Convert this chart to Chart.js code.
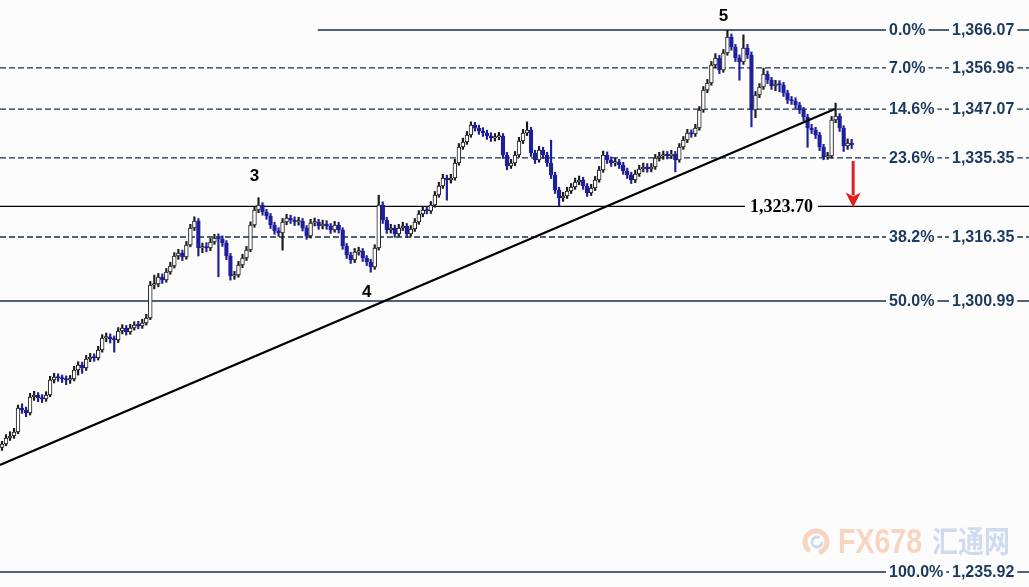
<!DOCTYPE html>
<html>
<head>
<meta charset="utf-8">
<title>Gold 4H – Fibonacci retracement</title>
<script src="https://cdn.jsdelivr.net/npm/chart.js@4.4.1/dist/chart.umd.min.js"></script>
<style>
  html, body { margin: 0; padding: 0; background: #fcfcfc; }
  canvas { display: block; }
</style>
</head>
<body>
<canvas id="chart" width="1029" height="587"></canvas>
<script>
// ---- price data (OHLC per bar) ----
const opens = [
  1265.80,1266.64,1268.08,1268.56,1269.53,1275.29,1274.81,1274.09,1277.93,1278.41,
  1277.69,1277.45,1278.41,1282.01,1282.73,1282.49,1282.25,1282.01,1282.25,1284.41,
  1285.62,1284.90,1287.06,1287.54,1287.30,1289.22,1292.10,1292.34,1291.86,1291.62,
  1293.78,1294.50,1293.54,1294.50,1295.22,1295.00,1295.70,1296.90,1304.83,1305.07,
  1306.75,1306.03,1307.95,1309.39,1311.79,1312.51,1311.55,1314.43,1318.52,1320.20,
  1313.71,1313.95,1313.71,1315.15,1316.11,1315.87,1314.91,1311.79,1306.99,1307.23,
  1309.63,1311.31,1313.23,1319.24,1322.84,1324.04,1322.36,1321.40,1319.24,1317.80,
  1317.31,1319.96,1320.92,1320.44,1319.96,1320.20,1318.52,1316.60,1319.72,1319.96,
  1319.00,1319.48,1319.00,1318.04,1319.24,1318.04,1314.19,1312.03,1310.83,1312.75,
  1312.99,1311.31,1310.35,1309.15,1313.71,1324.04,1320.44,1318.04,1318.52,1317.08,
  1318.52,1319.00,1317.08,1318.28,1319.96,1321.88,1322.84,1322.60,1324.04,1326.44,
  1328.60,1330.52,1330.04,1330.52,1334.13,1337.97,1339.17,1340.85,1343.25,1342.53,
  1341.81,1341.33,1340.61,1340.13,1340.37,1340.61,1336.05,1333.41,1334.13,1336.05,
  1339.41,1341.33,1342.05,1336.53,1334.85,1337.25,1336.05,1334.13,1331.24,1327.64,
  1325.72,1326.20,1327.40,1328.36,1329.56,1330.04,1328.60,1326.92,1328.12,1330.04,
  1332.44,1336.05,1334.85,1334.13,1334.37,1333.65,1332.20,1331.24,1330.04,1331.48,
  1332.68,1333.17,1332.68,1333.17,1335.33,1335.81,1336.05,1335.85,1336.29,1334.85,
  1337.97,1339.65,1341.33,1341.09,1342.53,1346.85,1351.66,1353.34,1357.66,1359.34,
  1356.46,1360.54,1364.38,1361.98,1359.34,1358.38,1361.74,1360.06,1346.85,1350.46,
  1352.38,1355.50,1354.06,1352.62,1353.10,1352.86,1350.94,1349.26,1349.02,1348.05,
  1346.85,1345.17,1342.53,1342.05,1340.85,1337.97,1335.57,1335.81,1344.45,1345.41,
  1342.53,1338.21,1338.93
];
const highs = [
  1267.3,1268.9,1269.6,1270.4,1276.0,1276.3,1275.5,1278.8,1279.3,1279.0,
  1278.5,1279.2,1282.9,1283.6,1283.5,1283.2,1283.0,1283.1,1285.3,1286.4,
  1286.3,1287.9,1288.4,1288.3,1290.1,1292.9,1293.3,1293.1,1292.6,1294.6,
  1295.3,1295.1,1295.4,1296.0,1296.1,1296.6,1297.8,1305.7,1307.2,1307.6,
  1307.5,1308.8,1310.3,1312.6,1313.4,1313.2,1315.3,1319.4,1321.2,1320.8,
  1314.9,1315.0,1316.0,1317.0,1317.1,1316.6,1315.5,1312.4,1308.1,1310.5,
  1312.2,1314.1,1320.0,1323.7,1325.8,1324.6,1323.0,1322.0,1319.9,1318.6,
  1320.8,1321.8,1321.6,1321.2,1321.1,1320.8,1319.1,1320.6,1320.9,1320.6,
  1320.4,1320.3,1319.6,1320.1,1319.9,1318.6,1314.8,1312.7,1313.6,1313.9,
  1313.6,1311.9,1311.0,1314.5,1326.4,1324.8,1321.1,1319.4,1319.2,1319.4,
  1319.9,1319.6,1319.1,1320.8,1322.7,1323.7,1323.6,1324.9,1327.3,1329.5,
  1331.4,1331.2,1331.4,1335.0,1338.8,1340.1,1341.7,1344.0,1343.9,1343.2,
  1342.6,1342.0,1341.4,1341.2,1341.5,1341.2,1336.7,1335.0,1336.9,1340.3,
  1342.2,1344.0,1342.7,1337.2,1338.1,1337.9,1336.7,1339.6,1331.9,1328.3,
  1327.1,1328.3,1329.2,1330.5,1331.0,1330.7,1329.2,1329.0,1330.9,1333.3,
  1337.0,1336.8,1335.6,1335.3,1335.0,1334.3,1332.9,1331.9,1332.4,1333.6,
  1334.1,1334.0,1334.0,1336.2,1336.7,1337.0,1336.9,1337.2,1336.9,1338.8,
  1340.5,1342.2,1342.1,1343.4,1347.7,1352.5,1354.2,1358.5,1360.4,1360.0,
  1361.4,1366.0,1365.1,1362.6,1360.1,1364.9,1362.6,1360.8,1351.3,1353.2,
  1356.9,1356.2,1354.7,1354.0,1353.9,1353.5,1351.6,1350.1,1349.8,1348.7,
  1347.5,1345.8,1343.4,1342.7,1341.5,1338.6,1336.7,1345.3,1348.5,1346.0,
  1343.1,1339.9,1339.8
];
const lows = [
  1265.1,1266.2,1267.5,1268.0,1269.1,1274.0,1273.2,1273.6,1277.1,1276.8,
  1276.6,1276.9,1278.0,1281.3,1281.7,1281.4,1280.9,1281.2,1281.8,1283.2,
  1283.6,1284.3,1286.4,1286.5,1286.8,1288.7,1291.2,1290.9,1288.7,1291.0,
  1293.1,1292.8,1293.0,1294.0,1294.3,1294.4,1295.2,1296.5,1303.9,1304.4,
  1305.2,1305.5,1307.4,1308.9,1311.0,1310.7,1311.0,1314.0,1317.9,1311.8,
  1312.6,1312.8,1313.1,1314.6,1306.8,1314.1,1310.9,1306.0,1306.2,1306.7,
  1309.0,1310.7,1312.8,1318.7,1322.2,1321.6,1320.6,1318.4,1317.0,1316.5,
  1313.2,1319.3,1319.6,1319.1,1319.2,1317.8,1315.8,1316.1,1319.0,1318.2,
  1318.3,1318.2,1317.2,1317.5,1317.3,1313.4,1311.2,1310.0,1310.2,1312.0,
  1310.5,1309.5,1307.9,1308.6,1313.2,1319.6,1317.2,1317.3,1316.3,1316.5,
  1317.9,1316.3,1316.5,1317.7,1319.4,1321.2,1321.9,1322.0,1323.5,1325.9,
  1328.0,1325.2,1329.3,1330.0,1333.6,1337.4,1338.6,1340.3,1341.8,1341.0,
  1340.5,1339.8,1339.3,1339.4,1339.7,1335.2,1332.5,1332.8,1333.5,1335.5,
  1338.8,1340.7,1335.7,1334.0,1334.3,1335.2,1333.3,1330.4,1326.8,1323.9,
  1324.9,1325.6,1326.8,1327.8,1328.9,1327.8,1326.1,1326.3,1327.5,1329.5,
  1331.9,1334.0,1333.3,1333.4,1332.8,1331.4,1330.4,1329.2,1329.4,1330.9,
  1332.0,1331.9,1332.0,1332.6,1334.6,1335.0,1335.1,1335.2,1332.0,1334.3,
  1337.4,1339.0,1340.3,1340.5,1342.0,1346.3,1351.0,1352.8,1357.0,1355.6,
  1355.9,1360.0,1361.2,1358.5,1354.0,1357.8,1359.2,1342.8,1345.0,1349.8,
  1351.8,1353.2,1351.8,1351.5,1351.2,1350.1,1348.4,1348.2,1347.2,1346.0,
  1344.3,1337.9,1341.2,1340.0,1337.1,1334.9,1335.0,1335.3,1343.8,1341.7,
  1336.9,1337.4,1337.6
];
const closes = [
  1266.64,1268.08,1268.56,1269.53,1275.29,1274.81,1274.09,1277.93,1278.41,1277.69,
  1277.45,1278.41,1282.01,1282.73,1282.49,1282.25,1282.01,1282.25,1284.41,1285.62,
  1284.90,1287.06,1287.54,1287.30,1289.22,1292.10,1292.34,1291.86,1291.62,1293.78,
  1294.50,1293.54,1294.50,1295.22,1295.00,1295.70,1296.90,1304.83,1305.07,1306.75,
  1306.03,1307.95,1309.39,1311.79,1312.51,1311.55,1314.43,1318.52,1320.20,1313.71,
  1313.95,1313.71,1315.15,1316.11,1315.87,1314.91,1311.79,1306.99,1307.23,1309.63,
  1311.31,1313.23,1319.24,1322.84,1324.04,1322.36,1321.40,1319.24,1317.80,1317.31,
  1319.96,1320.92,1320.44,1319.96,1320.20,1318.52,1316.60,1319.72,1319.96,1319.00,
  1319.48,1319.00,1318.04,1319.24,1318.04,1314.19,1312.03,1310.83,1312.75,1312.99,
  1311.31,1310.35,1309.15,1313.71,1324.04,1320.44,1318.04,1318.52,1317.08,1318.52,
  1319.00,1317.08,1318.28,1319.96,1321.88,1322.84,1322.60,1324.04,1326.44,1328.60,
  1330.52,1330.04,1330.52,1334.13,1337.97,1339.17,1340.85,1343.25,1342.53,1341.81,
  1341.33,1340.61,1340.13,1340.37,1340.61,1336.05,1333.41,1334.13,1336.05,1339.41,
  1341.33,1342.05,1336.53,1334.85,1337.25,1336.05,1334.13,1331.24,1327.64,1325.72,
  1326.20,1327.40,1328.36,1329.56,1330.04,1328.60,1326.92,1328.12,1330.04,1332.44,
  1336.05,1334.85,1334.13,1334.37,1333.65,1332.20,1331.24,1330.04,1331.48,1332.68,
  1333.17,1332.68,1333.17,1335.33,1335.81,1336.05,1335.85,1336.29,1334.85,1337.97,
  1339.65,1341.33,1341.09,1342.53,1346.85,1351.66,1353.34,1357.66,1359.34,1356.46,
  1360.54,1364.38,1361.98,1359.34,1358.38,1361.74,1360.06,1346.85,1350.46,1352.38,
  1355.50,1354.06,1352.62,1353.10,1352.86,1350.94,1349.26,1349.02,1348.05,1346.85,
  1345.17,1342.53,1342.05,1340.85,1337.97,1335.57,1335.81,1344.45,1345.41,1342.53,
  1338.21,1338.93,1338.45
];

// ---- Fibonacci retracement levels ----
const fibPct    = ['0.0%', '7.0%', '14.6%', '23.6%', '38.2%', '50.0%', '100.0%'];
const fibLevels = [1366.07, 1356.96, 1347.07, 1335.35, 1316.35, 1300.99, 1235.92];
const fibDashed = [false, true, true, true, true, false, false];

// ---- support target, trend line, wave counts ----
const targetLevel = 1323.70;
const arrowFrom = 1334.6;
const trendStart = { bar: -0.5, price: 1261.60 };
const trendEnd   = { bar: 207.8, price: 1347.07 };
const waveNames = ['3', '4', '5'];
const waveBars  = [64, 92, 181];
const waveSide  = ['high', 'low', 'high'];
const fibStartBar = 78.8;

// ---- view window ----
const xMin = -0.5, xMax = 256.25;
const yMin = 1232.30, yMax = 1373.27;

const BG = '#fcfcfc';
const UP_LINE = '#1a1a1a';
const DOWN = '#1f1f9c';
const FIB_COLOR = '#15304f';
const FIB_TEXT = '#1b3a5e';

const bars = closes.map((_, i) => i);
const isUp = i => closes[i] >= opens[i];

const datasets = [];

// wicks (low-high)
datasets.push({
  type: 'bar',
  label: 'wick',
  data: bars.map(i => ({ x: i, y: [lows[i], highs[i]] })),
  backgroundColor: bars.map(i => isUp(i) ? UP_LINE : DOWN),
  barThickness: 1.5,
  grouped: false,
  order: 5
});
// bodies (open-close)
datasets.push({
  type: 'bar',
  label: 'body',
  data: bars.map(i => ({ x: i, y: [opens[i], closes[i]] })),
  backgroundColor: bars.map(i => isUp(i) ? '#ffffff' : DOWN),
  borderColor: bars.map(i => isUp(i) ? UP_LINE : DOWN),
  borderWidth: 1,
  borderSkipped: false,
  barThickness: 3.8,
  minBarLength: 1.5,
  grouped: false,
  order: 4
});
// retracement levels
fibLevels.forEach((lvl, k) => {
  datasets.push({
    type: 'line',
    label: fibPct[k],
    data: [{ x: k === 0 ? fibStartBar : xMin, y: lvl }, { x: xMax, y: lvl }],
    borderColor: FIB_COLOR,
    borderWidth: 1.4,
    borderDash: fibDashed[k] ? [6, 3] : [],
    pointRadius: 0,
    order: 10
  });
});
// target support line
datasets.push({
  type: 'line',
  label: 'target',
  data: [{ x: xMin, y: targetLevel }, { x: xMax, y: targetLevel }],
  borderColor: '#000000',
  borderWidth: 1.4,
  pointRadius: 0,
  order: 9
});
// rising trend line
datasets.push({
  type: 'line',
  label: 'trend',
  data: [{ x: trendStart.bar, y: trendStart.price }, { x: trendEnd.bar, y: trendEnd.price }],
  borderColor: '#000000',
  borderWidth: 2.2,
  pointRadius: 0,
  order: 1
});

const fmt = v => v.toLocaleString('en-US', { minimumFractionDigits: 2, maximumFractionDigits: 2 });

const backdrop = {
  id: 'backdrop',
  beforeDraw(chart) {
    const ctx = chart.ctx;
    ctx.save();
    ctx.fillStyle = BG;
    ctx.fillRect(0, 0, chart.width, chart.height);

    // faint site watermark
    ctx.lineCap = 'round';
    ctx.strokeStyle = 'rgba(242,150,95,0.38)';
    ctx.lineWidth = 5;
    ctx.beginPath(); ctx.arc(816, 542, 11, Math.PI * 0.75, Math.PI * 2.35); ctx.stroke();
    ctx.strokeStyle = 'rgba(120,150,215,0.35)';
    ctx.lineWidth = 3;
    ctx.beginPath(); ctx.arc(817, 542, 5, Math.PI * 0.1, Math.PI * 1.6); ctx.stroke();

    ctx.textBaseline = 'alphabetic';
    ctx.font = 'bold 35px "Liberation Sans", Arial, sans-serif';
    const w1 = ctx.measureText('FX678').width;
    ctx.save();
    ctx.translate(838, 553);
    ctx.scale(84 / w1, 1);
    ctx.fillStyle = 'rgba(244,160,110,0.42)';
    ctx.fillText('FX678', 0, 0);
    ctx.restore();

    ctx.font = 'bold 30px "Noto Sans CJK SC", sans-serif';
    const w2 = ctx.measureText('汇通网').width;
    ctx.save();
    ctx.translate(932, 552);
    ctx.scale(78 / w2, 1);
    ctx.fillStyle = 'rgba(150,175,222,0.42)';
    ctx.fillText('汇通网', 0, 0);
    ctx.restore();
    ctx.restore();
  }
};

const annotations = {
  id: 'annotations',
  afterDraw(chart) {
    const ctx = chart.ctx;
    const xs = chart.scales.x, ys = chart.scales.y;
    ctx.save();

    // level captions on the right
    ctx.font = 'bold 16px "Liberation Sans", Arial, sans-serif';
    ctx.textBaseline = 'middle';
    ctx.textAlign = 'left';
    fibLevels.forEach((lvl, k) => {
      const y = Math.round(ys.getPixelForValue(lvl));
      const pct = fibPct[k];
      const val = fmt(lvl);
      const px = 889;
      const pw = ctx.measureText(pct).width;
      const vx = Math.max(952, px + pw + 6);
      const vw = ctx.measureText(val).width;
      ctx.fillStyle = BG;
      ctx.fillRect(px - 3, y - 8, pw + 6, 16);
      ctx.fillRect(vx - 3, y - 8, vw + 6, 16);
      ctx.fillStyle = FIB_TEXT;
      ctx.fillText(pct, px, y + 1);
      ctx.fillText(val, vx, y + 1);
    });

    // target caption
    const ty = Math.round(ys.getPixelForValue(targetLevel));
    ctx.font = 'bold 18px "Liberation Serif", "Times New Roman", serif';
    const tText = fmt(targetLevel);
    const tw = ctx.measureText(tText).width;
    ctx.fillStyle = BG;
    ctx.fillRect(745, ty - 8, tw + 10, 16);
    ctx.fillStyle = '#000000';
    ctx.fillText(tText, 750, ty + 1);

    // wave counts
    ctx.font = 'bold 17px "Liberation Sans", Arial, sans-serif';
    ctx.textAlign = 'center';
    waveNames.forEach((name, k) => {
      const b = waveBars[k];
      const x = xs.getPixelForValue(b) - 4;
      const y = waveSide[k] === 'high'
        ? ys.getPixelForValue(highs[b]) - (k === 2 ? 14 : 21)
        : ys.getPixelForValue(lows[b]) + 20;
      ctx.fillStyle = '#000000';
      ctx.fillText(name, x, y);
    });

    // downside arrow towards the target
    const ax = xs.getPixelForValue(closes.length - 1) + 1.5;
    const y0 = ys.getPixelForValue(arrowFrom);
    const y1 = ys.getPixelForValue(targetLevel) + 1;
    ctx.strokeStyle = '#dd2020';
    ctx.fillStyle = '#dd2020';
    ctx.lineWidth = 3;
    ctx.lineCap = 'butt';
    ctx.beginPath();
    ctx.moveTo(ax, y0);
    ctx.lineTo(ax, y1 - 12);
    ctx.stroke();
    ctx.beginPath();
    ctx.moveTo(ax - 7.5, y1 - 15);
    ctx.lineTo(ax, y1 - 11);
    ctx.lineTo(ax + 7.5, y1 - 15);
    ctx.lineTo(ax, y1);
    ctx.closePath();
    ctx.fill();

    ctx.restore();
  }
};

new Chart(document.getElementById('chart'), {
  type: 'bar',
  data: { datasets },
  options: {
    responsive: false,
    animation: false,
    devicePixelRatio: 1,
    layout: { padding: 0 },
    plugins: { legend: { display: false }, tooltip: { enabled: false } },
    scales: {
      x: { type: 'linear', min: xMin, max: xMax, offset: false, display: false, bounds: 'data' },
      y: { type: 'linear', min: yMin, max: yMax, display: false, bounds: 'data' }
    }
  },
  plugins: [backdrop, annotations]
});
</script>
</body>
</html>
